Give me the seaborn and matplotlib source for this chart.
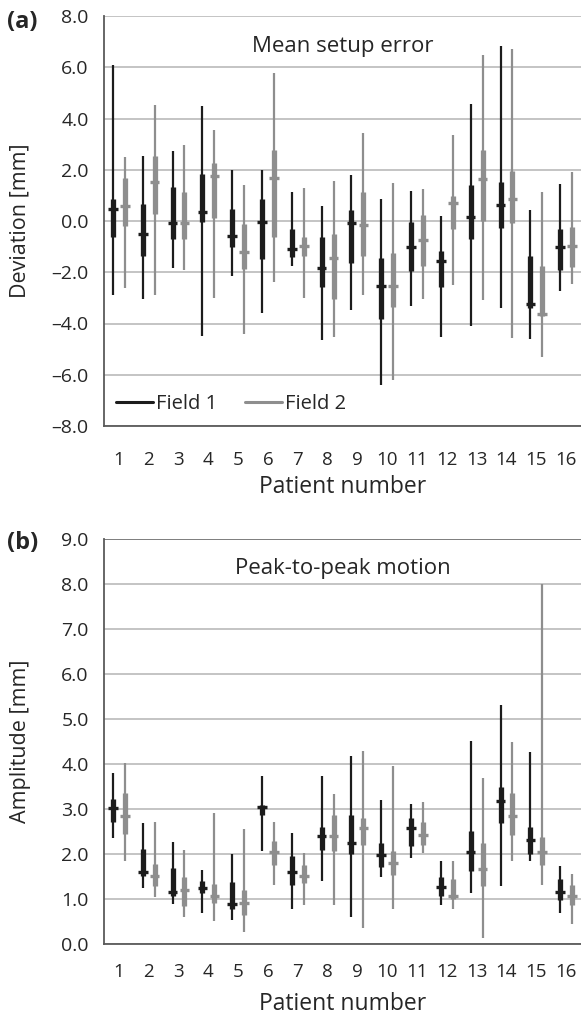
import numpy as np
import pandas as pd
import matplotlib
matplotlib.use("Agg")
import matplotlib.pyplot as plt
import seaborn as sns
from matplotlib.lines import Line2D

patients = [str(i) for i in range(1, 17)]

# Panel (a): mean setup error [mm]
a_f1_min = [-2.9, -3.04, -1.82, -4.5, -2.13, -3.6, -1.75, -4.66, -3.49, -6.4, -3.3, -4.53, -4.11, -3.39, -4.59, -2.74]
a_f1_max = [6.1, 2.55, 2.72, 4.49, 1.98, 2.0, 1.15, 0.58, 1.81, 0.84, 1.16, 0.19, 4.55, 6.83, 0.41, 1.45]
a_f1_lo = [-0.61, -1.38, -0.69, -0.04, -1.03, -1.49, -1.42, -2.59, -1.64, -3.82, -1.94, -2.59, -0.69, -0.26, -3.4, -1.9]
a_f1_hi = [0.84, 0.65, 1.33, 1.82, 0.48, 0.84, -0.3, -0.61, 0.43, -1.44, -0.04, -1.16, 1.4, 1.53, -1.36, -0.32]
a_f1_mid = [0.45, -0.49, -0.06, 0.35, -0.58, -0.04, -1.1, -1.85, -0.06, -2.55, -1.0, -1.57, 0.17, 0.61, -3.23, -1.0]

a_f2_min = [-2.61, -2.87, -1.9, -3.0, -4.4, -2.37, -3.01, -4.53, -2.87, -6.21, -3.04, -2.5, -3.08, -4.57, -5.3, -2.46]
a_f2_max = [2.48, 4.53, 2.98, 3.56, 1.41, 5.76, 1.29, 1.55, 3.45, 1.49, 1.25, 3.36, 6.47, 6.73, 1.14, 1.9]
a_f2_lo = [-0.19, 0.28, -0.71, 0.13, -1.88, -0.61, -1.36, -3.04, -1.36, -3.36, -1.75, -0.32, 0.0, -0.09, -3.7, -1.81]
a_f2_hi = [1.68, 2.52, 1.13, 2.26, -0.13, 2.78, -0.61, -0.52, 1.13, -1.23, 0.25, 0.97, 2.76, 1.94, -1.75, -0.22]
a_f2_mid = [0.58, 1.51, -0.06, 1.75, -1.2, 1.67, -0.97, -1.46, -0.17, -2.52, -0.74, 0.71, 1.62, 0.87, -3.62, -0.97]

# Panel (b): peak-to-peak motion [mm]
b_f1_min = [2.35, 1.24, 0.89, 0.7, 0.53, 2.06, 0.78, 1.39, 0.61, 1.49, 1.91, 0.87, 1.13, 1.3, 1.84, 0.69]
b_f1_max = [3.81, 2.7, 2.26, 1.64, 2.0, 3.74, 2.46, 3.74, 4.18, 3.21, 3.12, 1.84, 4.52, 5.31, 4.26, 1.74]
b_f1_lo = [2.72, 1.52, 1.06, 1.13, 0.78, 2.87, 1.32, 2.09, 2.0, 1.72, 2.17, 1.06, 1.63, 2.69, 2.01, 0.98]
b_f1_hi = [3.23, 2.11, 1.7, 1.39, 1.37, 3.09, 1.95, 2.61, 2.87, 2.24, 2.8, 1.48, 2.52, 3.49, 2.61, 1.44]
b_f1_mid = [3.03, 1.61, 1.15, 1.24, 0.9, 3.04, 1.6, 2.41, 2.24, 1.97, 2.58, 1.26, 2.04, 3.18, 2.32, 1.15]

b_f2_min = [1.85, 1.04, 0.61, 0.52, 0.26, 1.32, 0.87, 0.87, 0.36, 0.78, 2.02, 0.78, 0.13, 1.85, 1.32, 0.44]
b_f2_max = [4.02, 2.71, 2.09, 2.91, 2.55, 2.71, 2.02, 3.34, 4.3, 3.95, 3.15, 1.84, 3.69, 4.48, 7.99, 1.56]
b_f2_lo = [2.44, 1.28, 0.84, 0.91, 0.65, 1.76, 1.35, 2.07, 2.21, 1.54, 2.21, 1.0, 1.28, 2.43, 1.76, 0.87]
b_f2_hi = [3.35, 1.77, 1.5, 1.33, 1.21, 2.29, 1.76, 2.87, 2.81, 2.06, 2.72, 1.45, 2.24, 3.35, 2.38, 1.32]
b_f2_mid = [2.85, 1.52, 1.21, 1.06, 0.91, 2.04, 1.52, 2.41, 2.58, 1.8, 2.43, 1.07, 1.67, 2.85, 2.04, 1.07]

fields = ["Field 1", "Field 2"]
colors = {"Field 1": "#1c1c1c", "Field 2": "#8e8e8e"}
offsets = {"Field 1": -0.2, "Field 2": 0.2}


def make_df(f1, f2):
    rows = []
    for name, d in (("Field 1", f1), ("Field 2", f2)):
        mn, mx, lo, hi, mid = d
        for i, p in enumerate(patients):
            rows.append(dict(patient=p, idx=i, field=name, vmin=mn[i], vmax=mx[i],
                             lo=lo[i], hi=hi[i], mid=mid[i]))
    return pd.DataFrame(rows)


df_a = make_df((a_f1_min, a_f1_max, a_f1_lo, a_f1_hi, a_f1_mid),
               (a_f2_min, a_f2_max, a_f2_lo, a_f2_hi, a_f2_mid))
df_b = make_df((b_f1_min, b_f1_max, b_f1_lo, b_f1_hi, b_f1_mid),
               (b_f2_min, b_f2_max, b_f2_lo, b_f2_hi, b_f2_mid))

sns.set_theme(style="white")
plt.rcParams['font.family'] = ['Open Sans', 'DejaVu Sans']

W, H = 581, 1016
fig = plt.figure(figsize=(W / 100, H / 100), dpi=100)


def ax_rect(l, r, t, b):
    return [l / W, 1 - b / H, (r - l) / W, (b - t) / H]


ax1 = fig.add_axes(ax_rect(104, 581, 16, 426))
ax2 = fig.add_axes(ax_rect(104, 581, 539, 944))

spine_col = "#5a5a5a"
grid_col = "#b4b4b4"
text_col = "#262626"


def draw(ax, df, ylim, yticks, title, xpad, top_dark):
    for yt in yticks:
        col = spine_col if (top_dark and yt == yticks[-1]) else grid_col
        ax.axhline(yt, color=col, lw=1.1, zorder=0)
    for f in fields:
        d = df[df.field == f]
        x = d.idx.values + offsets[f]
        c = colors[f]
        ax.vlines(x, d.vmin, d.vmax, color=c, lw=1.6, zorder=2)
        ax.vlines(x, d.lo, d.hi, color=c, lw=3.8, zorder=3)
        ax.hlines(d.mid, x - 0.16, x + 0.16, color=c, lw=2.4, zorder=4)
    ax.set_xlim(-0.5, 15.5)
    ax.set_ylim(*ylim)
    ax.set_yticks(yticks)
    ax.set_yticklabels([f"{v:.1f}".replace("-", "\u2013") for v in yticks])
    ax.set_xticks(np.arange(-0.5, 16.0, 1.0))
    ax.set_xticklabels([])
    ax.set_xticks(np.arange(16), minor=True)
    ax.set_xticklabels(patients, minor=True)
    ax.tick_params(axis='x', which='major', length=6, width=1.1, color=spine_col, direction='out')
    ax.tick_params(axis='x', which='minor', length=0, labelsize=13.5, pad=xpad, colors=text_col)
    ax.tick_params(axis='y', length=7, width=1.1, color=spine_col, direction='out',
                   labelsize=14, labelcolor=text_col, pad=4)
    for s in ("top", "right"):
        ax.spines[s].set_visible(False)
    for s in ("left", "bottom"):
        ax.spines[s].set_color(spine_col)
        ax.spines[s].set_linewidth(1.3)
    ax.set_xlabel("Patient number", fontsize=16.5, color=text_col)
    ax.xaxis.label.set_va('center')
    ax.xaxis.set_label_coords(0.5, -0.148)
    ax.text(0.5, 0.952, title, transform=ax.transAxes, ha='center', va='top',
            fontsize=16, color=text_col)


draw(ax1, df_a, (-8, 8), [-8.0, -6.0, -4.0, -2.0, 0.0, 2.0, 4.0, 6.0, 8.0],
     "Mean setup error", 18, False)
draw(ax2, df_b, (0, 9), [0.0, 1.0, 2.0, 3.0, 4.0, 5.0, 6.0, 7.0, 8.0, 9.0],
     "Peak-to-peak motion", 13.5, True)

for ax, lab in ((ax1, "Deviation [mm]"), (ax2, "Amplitude [mm]")):
    ax.set_ylabel(lab, fontsize=15.5, color=text_col)
    ax.yaxis.label.set_va('center')
    ax.yaxis.set_label_coords(-0.176, 0.5)

handles = [Line2D([], [], color=colors[f], lw=2.2) for f in fields]
ax1.legend(handles, fields, loc='lower left', ncol=2, frameon=False, fontsize=14.5,
           handlelength=1.85, handletextpad=0.15, columnspacing=1.35,
           bbox_to_anchor=(0.0, 0.0), borderaxespad=0.4, borderpad=0.2)

fig.text(7 / W, 1 - 22 / H, "(a)", fontsize=17, fontweight='bold', va='center', ha='left', color=text_col)
fig.text(7 / W, 1 - 543 / H, "(b)", fontsize=17, fontweight='bold', va='center', ha='left', color=text_col)

fig.savefig("out.png", dpi=100, facecolor="white")
